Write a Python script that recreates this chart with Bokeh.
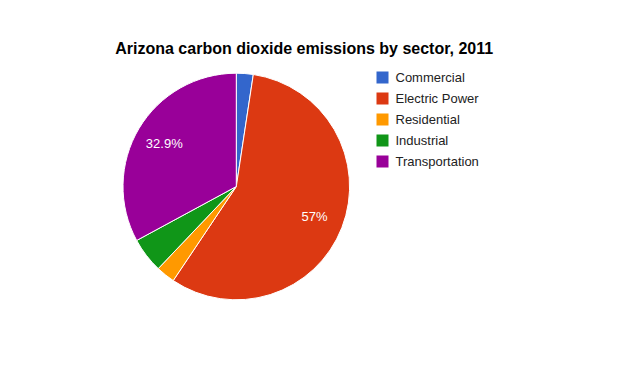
import math
from bokeh.plotting import figure
from bokeh.models import Range1d, ColumnDataSource
from bokeh.core.properties import value
from bokeh.embed import file_html
from bokeh.resources import INLINE

# ---- data ----
title_text = "Arizona carbon dioxide emissions by sector, 2011"
sectors = ["Commercial", "Electric Power", "Residential", "Industrial", "Transportation"]
shares = [2.4, 57.0, 2.7, 5.0, 32.9]
colors = ["#3366cc", "#dc3912", "#ff9900", "#109618", "#990099"]

# ---- layout (page pixels of the 619x371 reference) ----
W, H = 603, 355
def X(px):
    return px
def Y(py):
    return H - py

cx, cy, r = X(235.8), Y(186.0), 113.3
label_frac = 0.74
label_min_share = 10.0

p = figure(width=W, height=H, x_range=Range1d(0, W), y_range=Range1d(0, H),
           output_backend="svg", toolbar_location=None,
           x_axis_type=None, y_axis_type=None, min_border=0)
p.grid.visible = False
p.outline_line_color = None
p.background_fill_color = "white"
p.border_fill_color = "white"

total = sum(shares)
starts, ends, mids = [], [], []
acc = 0.0
for s in shares:
    a0 = acc / total * 2 * math.pi
    acc += s
    a1 = acc / total * 2 * math.pi
    # clockwise from 12 o'clock -> math angles
    starts.append(math.pi / 2 - a0)
    ends.append(math.pi / 2 - a1)
    mids.append(math.pi / 2 - (a0 + a1) / 2)

src = ColumnDataSource(dict(start=starts, end=ends, color=colors))
p.wedge(x=cx, y=cy, radius=r, start_angle="start", end_angle="end",
        direction="clock", fill_color="color", line_color="white", line_width=1,
        source=src)

# slice labels
lx, ly, lt = [], [], []
for s, m in zip(shares, mids):
    if s >= label_min_share:
        lx.append(cx + label_frac * r * math.cos(m))
        ly.append(cy + label_frac * r * math.sin(m))
        lt.append("{:g}%".format(s))
p.text(x=lx, y=ly, text=lt, text_color="white", text_font=value("Liberation Sans"),
       text_font_size="13px", text_align="center", text_baseline="middle")

# title
p.text(x=[X(303.7)], y=[Y(48.3)], text=[title_text], text_color="black",
       text_font=value("Liberation Sans"), text_font_size="16px",
       text_font_style="bold", text_align="center", text_baseline="alphabetic")

# legend
leg_y = [Y(77 + 21 * i) for i in range(len(sectors))]
p.rect(x=[X(382)] * len(sectors), y=leg_y, width=12, height=12,
       fill_color=colors, line_color=None)
p.text(x=[X(395)] * len(sectors), y=leg_y, text=sectors, text_color="#222222",
       text_font=value("Liberation Sans"), text_font_size="13px",
       text_align="left", text_baseline="middle")

open("out.html", "w").write(file_html(p, INLINE))
